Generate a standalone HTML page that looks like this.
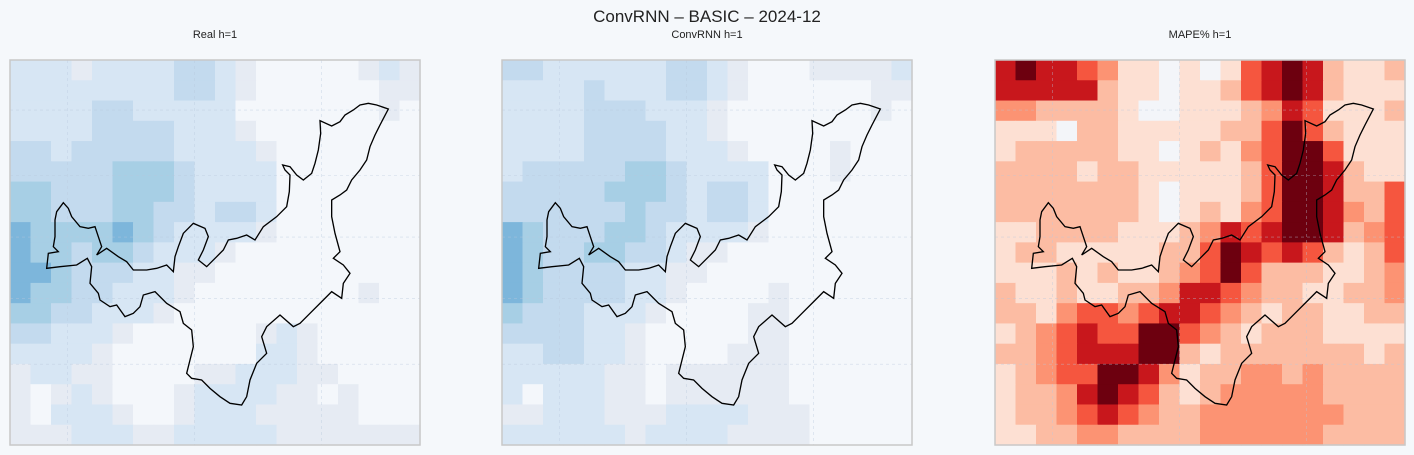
<!DOCTYPE html>
<html><head><meta charset="utf-8"><style>
body{margin:0;background:#f5f8fb;width:1414px;height:455px;overflow:hidden;font-family:"Liberation Sans",sans-serif;position:relative}
.t{position:absolute;color:#222;text-align:center}
</style></head><body>
<div class="t" style="left:0;width:1414px;top:7px;font-size:17px">ConvRNN – BASIC – 2024-12</div>
<div class="t" style="left:10px;width:410px;top:29px;font-size:11px">Real h=1</div>
<div class="t" style="left:502px;width:410px;top:29px;font-size:11px">ConvRNN h=1</div>
<div class="t" style="left:995px;width:410px;top:29px;font-size:11px">MAPE% h=1</div>
<svg id="s" width="1414" height="455" style="position:absolute;left:0;top:0"></svg>
<script>
const realRows=["22212222332100000121","22222222332100000011","22223322222000000010","22223333222100000000","33233333222210000000","33333444322220000000","44333444322220000000","44333443323320000000","54444543222210000000","54434432221000000000","55433322110000000000","54433222100000000100","44332221000000000000","33222100000012100000","22221000000022100000","12211000011222110000","10121000122221101000","10222100122211111000","11122211222221111111"];
const predRows=["33222222332100011112","22223222332100000011","22223332221000000010","22223333221000000000","22223333222100001000","23333344322220001000","33333444323320000000","33333343323320000000","54333443222210000000","54334433211000000000","54333322110000000000","54333322100001000000","43332221000011000000","33332210000011000000","22332210000111000000","22222110111111000000","20222110111111000000","11222111222211100000","22222212222111100000"];
const mapeRows=["56554311010145652112","55555211011245652111","33222210011123541112","11102211111224642111","12222211012134664111","22221221111124665211","22222221011124665224","22222221012134665324","11222211123545665234","12211111224654542124","11121211234642221123","21121122355432211223","22134434554321221122","12345446643212221111","22345556621222222212","12344665312233232222","12235654212333332222","12234543223333333222","11223322223333332222"];
const blues=["#f4f7fb","#e6ebf3","#d7e6f4","#c3daee","#a7cfe5","#7db6db","#4a98c9"];
const reds=["#f3f5f9","#fde0d3","#fcbca3","#fc9373","#f5563f","#c8171c","#6d000f"];
const panels=[{x:10,rows:realRows,pal:blues,name:"real"},{x:502,rows:predRows,pal:blues,name:"convrnn"},{x:995,rows:mapeRows,pal:reds,name:"mape"}];
const W=410,H=385,Y0=60;
const border="M1135,147 L1100,135 L1075,130 L1050,135 L1030,150 L1005,165 L990,185 L965,198 L930,182 L932,220 L925,270 L915,310 L905,340 L880,360 L860,345 L840,320 L818,315 L825,330 L840,345 L838,395 L830,440 L800,470 L760,500 L735,540 L710,525 L680,535 L655,540 L640,570 L620,590 L590,620 L565,600 L580,570 L595,530 L585,505 L550,490 L520,520 L505,560 L495,590 L490,635 L470,615 L440,625 L410,630 L370,630 L350,605 L325,590 L290,565 L260,585 L275,560 L265,530 L255,500 L235,505 L210,500 L185,470 L175,445 L160,428 L140,455 L135,480 L135,530 L130,560 L145,575 L115,580 L110,625 L150,620 L200,615 L232,595 L245,620 L240,670 L265,700 L270,720 L300,740 L320,735 L345,770 L370,760 L390,740 L400,705 L435,695 L470,730 L510,755 L520,790 L545,810 L550,860 L540,900 L530,940 L545,955 L575,960 L600,985 L630,1010 L660,1030 L695,1035 L710,1010 L720,960 L740,910 L770,880 L755,830 L770,800 L810,765 L850,800 L870,790 L900,760 L940,720 L965,695 L995,715 L1000,670 L1020,640 L1000,615 L970,595 L990,575 L975,520 L965,470 L965,420 L990,405 L1010,390 L1025,360 L1050,330 L1070,300 L1080,260 L1095,225 L1110,195 Z";
const NS="http://www.w3.org/2000/svg",svg=document.getElementById("s");
function mk(t,a,p){const e=document.createElementNS(NS,t);for(const k in a)e.setAttribute(k,a[k]);(p||svg).appendChild(e);return e;}
panels.forEach(p=>{
  const g=mk("g",{});
  
  
  const nr=p.rows.length,nc=p.rows[0].length,cw=W/nc,ch=H/nr;
  const xs=c=>p.x+c*cw, ys=r=>Y0+r*ch;
  p.rows.forEach((row,r)=>{[...row].forEach((v,c)=>{
    const cell=mk("rect",{x:xs(c),y:ys(r),width:cw+0.6,height:ch+0.6,fill:p.pal[+v]},g);
    
    
  });});
  [0.14,0.45,0.76].forEach(f=>{const l=mk("line",{x1:p.x+f*W,x2:p.x+f*W,y1:Y0,y2:Y0+H,stroke:"#b8c8dc","stroke-dasharray":"3,3","stroke-width":0.6,opacity:0.6},g);
    
    });
  [0.13,0.3,0.46,0.62,0.79].forEach(f=>{const l=mk("line",{y1:Y0+f*H,y2:Y0+f*H,x1:p.x,x2:p.x+W,stroke:"#b8c8dc","stroke-dasharray":"3,3","stroke-width":0.6,opacity:0.6},g);
    
    });
  const b=mk("path",{d:border,fill:"none",stroke:"#000","stroke-width":4,transform:`translate(${p.x},${Y0}) scale(${W/1230},${H/1155})`},g);
  
  
  const fr=mk("rect",{x:p.x,y:Y0,width:W,height:H,fill:"none",stroke:"#c8c8c8","stroke-width":1.5},g);
  
  
});
</script>
</body></html>
